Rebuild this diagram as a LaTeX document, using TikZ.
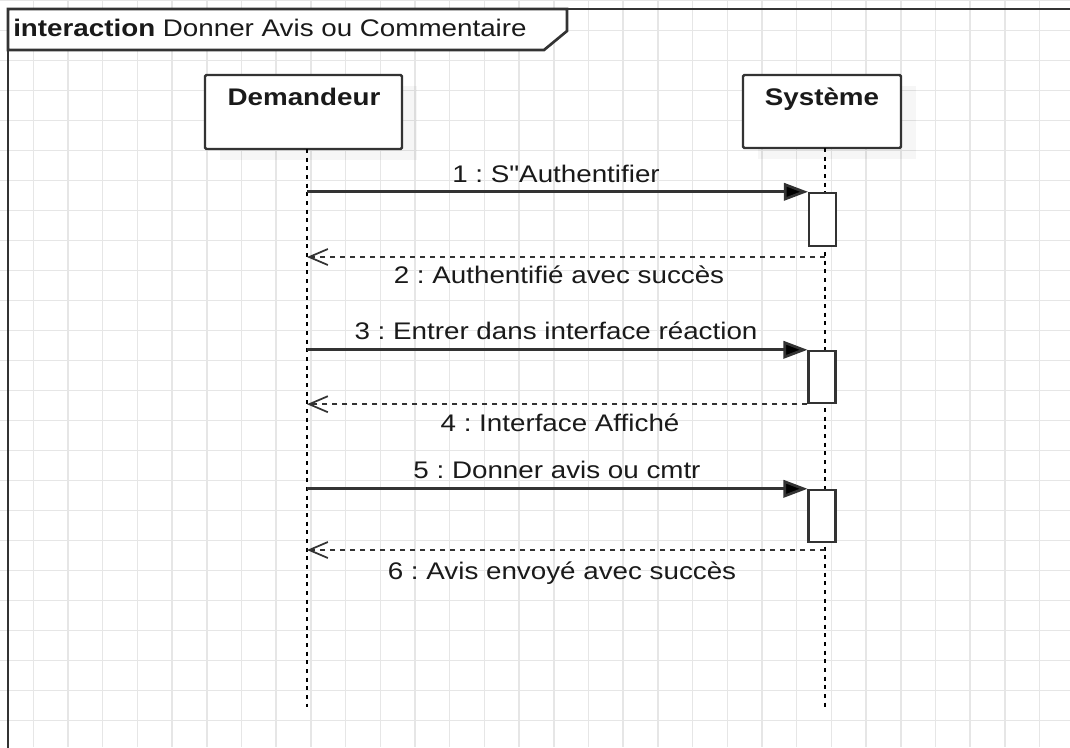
\documentclass[tikz,border=0pt]{standalone}
\usepackage{fontspec}
\setmainfont{Liberation Sans}
\newfontfamily\rawfont{Liberation Sans}[Ligatures=TeXOff]
\usetikzlibrary{arrows.meta}
\definecolor{gridc}{HTML}{E6E6E6}
\definecolor{linec}{HTML}{333333}
\definecolor{textc}{HTML}{1A1A1A}
\newcommand{\wtxt}[1]{\scalebox{1.157}[1]{#1}}
\frenchspacing
\begin{document}
\begin{tikzpicture}[x=0.75pt,y=-0.75pt,
  gridline/.style={draw=gridc,line width=1.1pt},
  frameline/.style={draw=linec,line width=2pt},
  partbox/.style={draw=linec,line width=1.8pt,fill=white,rounded corners=1pt,inner sep=0pt},
  partshadow/.style={fill=black,opacity=0.035},
  parttext/.style={anchor=base,inner sep=0pt,text=textc,font=\fontsize{18pt}{21pt}\selectfont\bfseries},
  lifeline/.style={draw=black,line width=1.5pt,dash pattern=on 3pt off 3.5pt},
  actbox/.style={draw=linec,line width=1.8pt,fill=white,inner sep=0pt,minimum width=20pt},
  msg/.style={draw=linec,line width=2pt,-{Triangle[length=18pt,width=13pt,fill=black]}},
  ret/.style={draw=linec,line width=1.5pt,dash pattern=on 4pt off 3.5pt,-{Straight Barb[length=14pt,width=12pt,line width=1.3pt]}},
  msgtext/.style={anchor=base,inner sep=0pt,text=textc,font=\fontsize{18pt}{21pt}\selectfont}]
\useasboundingbox (0,0) rectangle (1070,747);
\clip (0,0) rectangle (1070,747);
\fill[white] (0,0) rectangle (1070,747);
% grid
\foreach \k in {0,...,29} \draw[gridline] ({33.3+34.7*\k},0) -- ({33.3+34.7*\k},747);
\foreach \k in {0,...,24} \draw[gridline] (0,{0.7+30*\k}) -- (1070,{0.7+30*\k});
% frame
\draw[frameline] (8,760) -- (8,9) -- (1080,9);
\draw[frameline,fill=white] (8,9) -- (567,9) -- (567,31) -- (544,50) -- (8,50) -- cycle;
\node[msgtext,anchor=base west] (title) at (13,36.5) {\wtxt{\textbf{interaction} Donner Avis ou Commentaire}};
% participants
\fill[partshadow] (220,86) rectangle (417,160);
\fill[partshadow] (758,86) rectangle (916,159);
\node[partbox,minimum width=147.75pt,minimum height=55.5pt] (dem) at (303.5,112) {};
\node[partbox,minimum width=118.5pt,minimum height=54.75pt] (sys) at (822,111.5) {};
\node[parttext] (demt) at (304,105) {\wtxt{Demandeur}};
\node[parttext] (syst) at (822,105) {\wtxt{Système}};
% lifelines
\coordinate (dtop) at (307,149);
\coordinate (dbot) at (307,707);
\coordinate (stop) at (825,148);
\coordinate (sbot) at (825,707);
\draw[lifeline] (dtop) -- (dbot);
\draw[lifeline] (stop) -- (sbot);
% activations
\node[actbox,minimum height=39.75pt] (act1) at (822.5,219.5) {};
\node[actbox,minimum height=39pt] (act2) at (822,377) {};
\node[actbox,minimum height=39pt] (act3) at (822,516) {};
% messages
\coordinate (s2) at (825,257);
\coordinate (s6) at (825,550);
\draw[msg] (dtop |- act1.north west) -- (act1.north west);
\draw[ret] (s2) -- (dtop |- s2);
\draw[msg] (dtop |- act2.north west) -- (act2.north west);
\draw[ret] (act2.south west) -- (dtop |- act2.south west);
\draw[msg] (dtop |- act3.north west) -- (act3.north west);
\draw[ret] (s6) -- (dtop |- s6);
% labels
\node[msgtext] (l1) at (556,182.5) {\wtxt{\rawfont 1 : S"Authentifier}};
\node[msgtext] (l2) at (559,283.5) {\wtxt{2 : Authentifié avec succès}};
\node[msgtext] (l3) at (556,339.5) {\wtxt{3 : Entrer dans interface réaction}};
\node[msgtext] (l4) at (560,431.5) {\wtxt{4 : Interface Affiché}};
\node[msgtext] (l5) at (557,478.5) {\wtxt{5 : Donner avis ou cmtr}};
\node[msgtext] (l6) at (562,579.5) {\wtxt{6 : Avis envoyé avec succès}};
\end{tikzpicture}
\end{document}
